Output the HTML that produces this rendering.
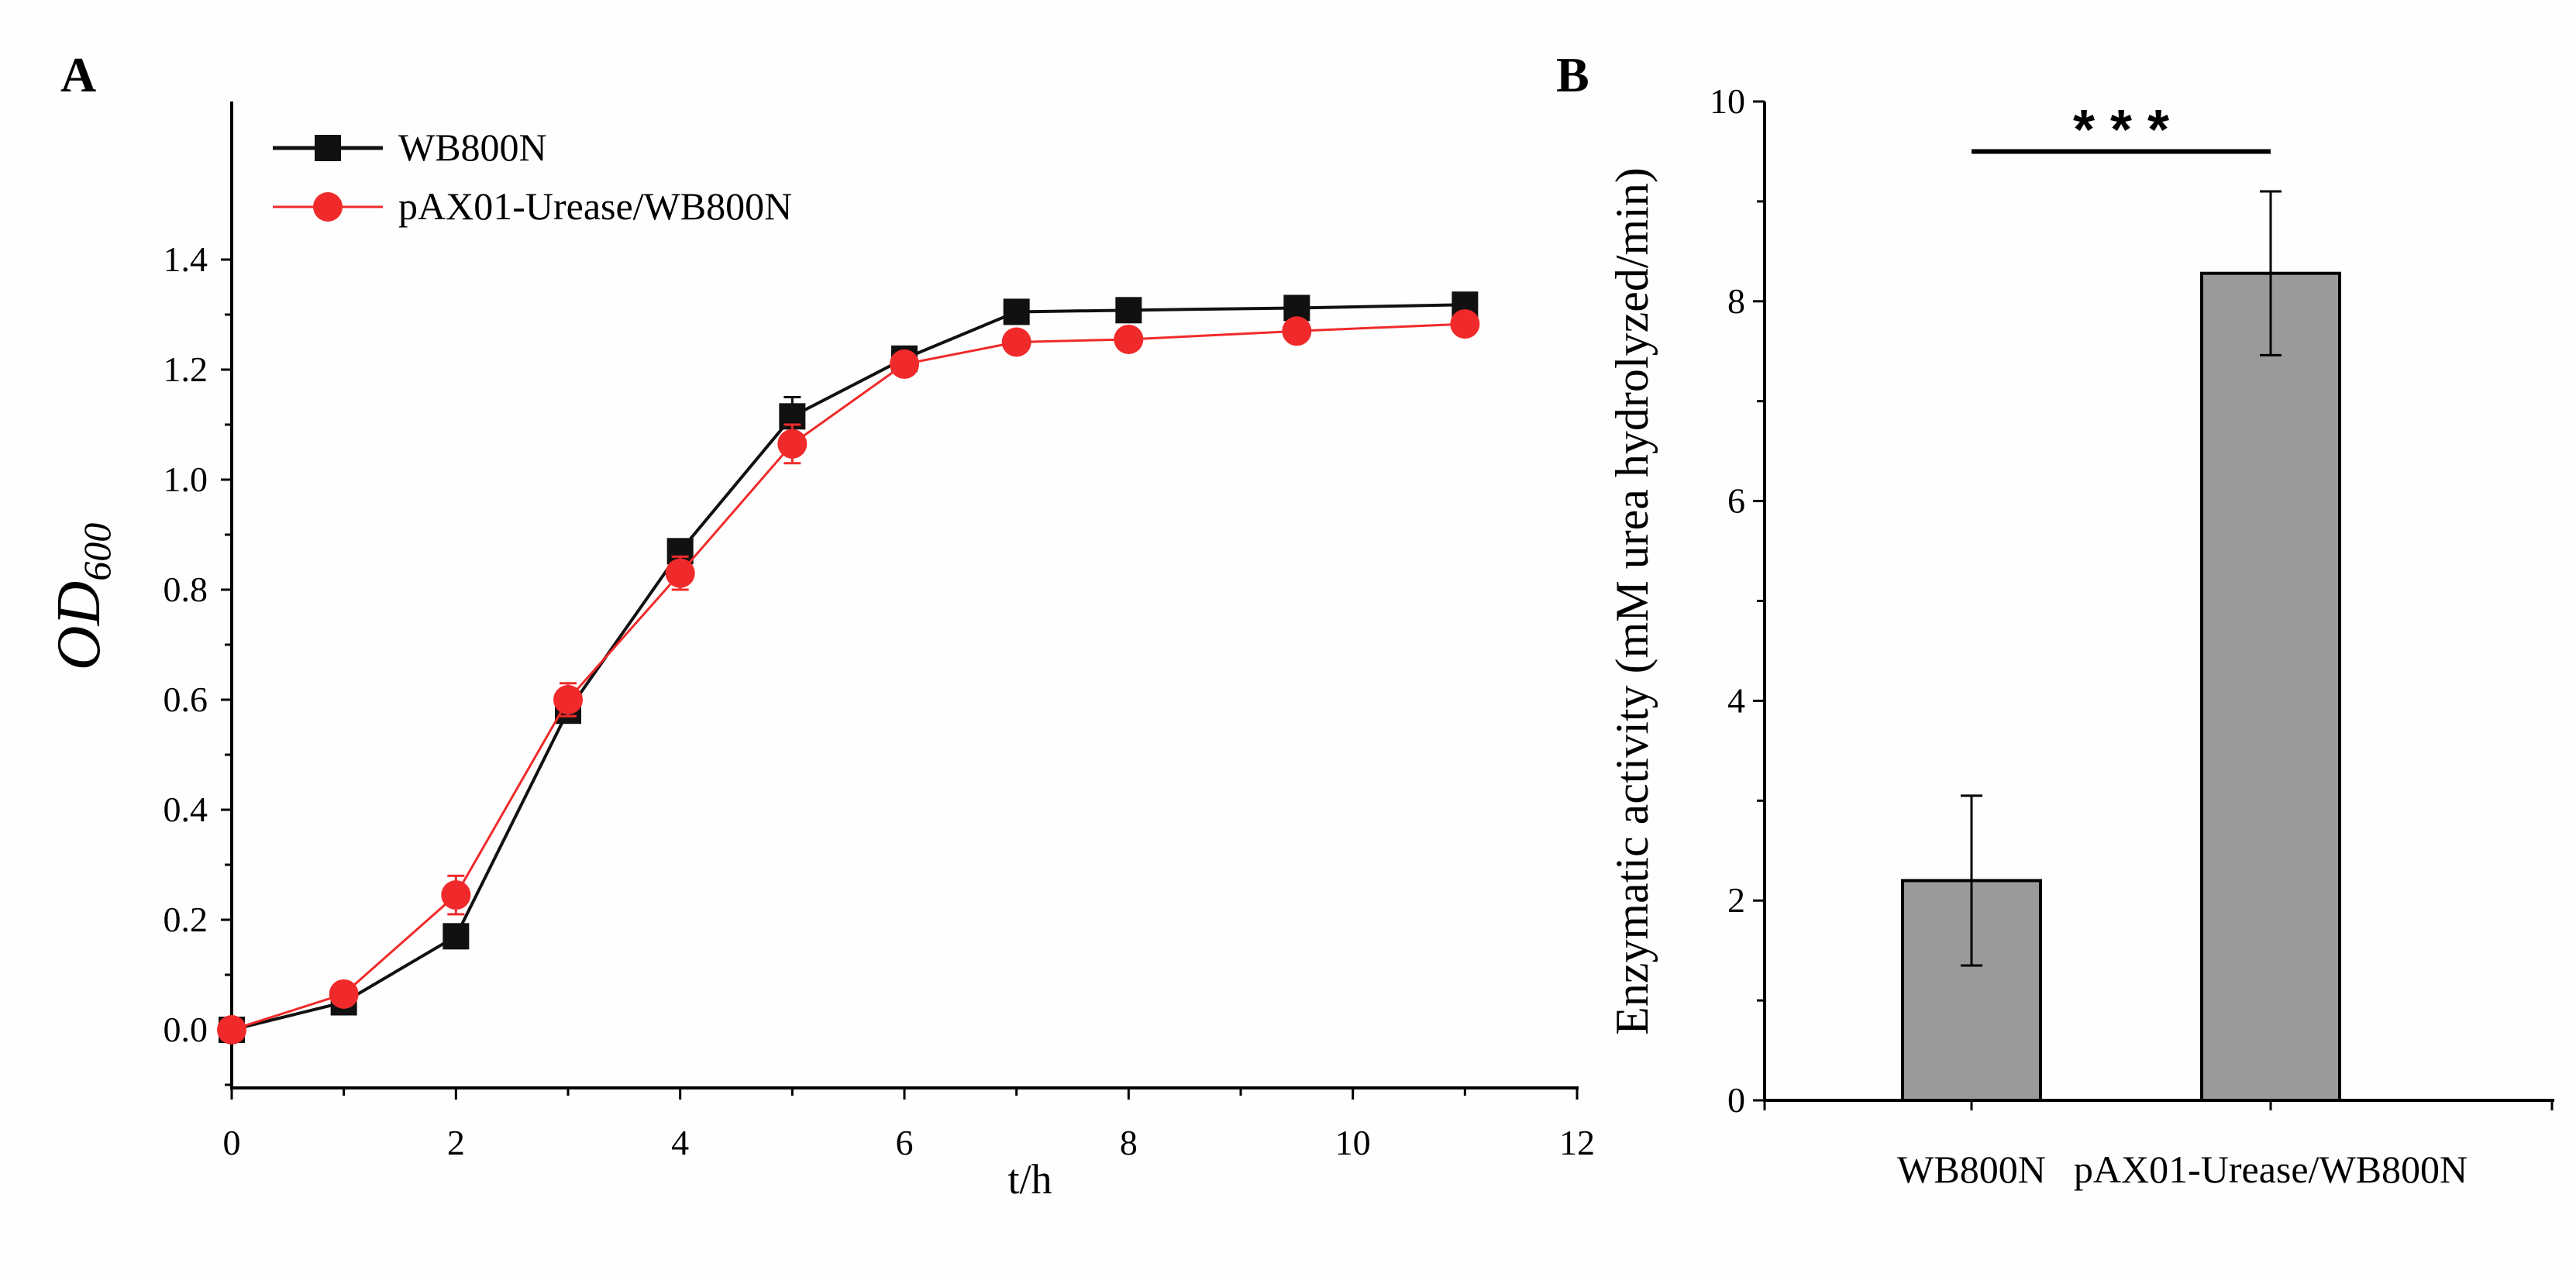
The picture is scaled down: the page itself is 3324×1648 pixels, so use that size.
<!DOCTYPE html>
<html><head><meta charset="utf-8"><style>
html,body{margin:0;padding:0;background:#fefefe;}
svg{display:block;font-family:"Liberation Serif",serif;}
</style></head><body>
<svg id="fig" width="3324" height="1648" viewBox="0 0 3324 1648">
<rect width="3324" height="1648" fill="#fefefe"/>
</svg>
<script>
// Panel A data
const timeH = [0,1,2,3,4,5,6,7,8,9.5,11];
const wbOD = [0,0.05,0.17,0.58,0.87,1.115,1.22,1.305,1.308,1.312,1.318];
const wbErr = [0.005,0.008,0.01,0.02,0.012,0.035,0.012,0.008,0.008,0.008,0.008];
const paxOD = [0,0.065,0.245,0.60,0.83,1.065,1.21,1.25,1.255,1.27,1.283];
const paxErr = [0.005,0.008,0.035,0.03,0.03,0.035,0.015,0.008,0.008,0.008,0.008];
const xTicksA = [0,2,4,6,8,10,12];
const yTicksA = [0.0,0.2,0.4,0.6,0.8,1.0,1.2,1.4];
// Panel B data
const strains = ["WB800N","pAX01-Urease/WB800N"];
const activity = [2.2,8.28];
const activityErr = [0.85,0.82];
const yTicksB = [0,2,4,6,8,10];

const NS="http://www.w3.org/2000/svg";
const svg=document.getElementById('fig');
function el(t,a,p){const e=document.createElementNS(NS,t);for(const k in a)e.setAttribute(k,a[k]);(p||svg).appendChild(e);return e;}
function txt(s,a,p){const e=el('text',a,p);e.textContent=s;return e;}

// ---------- Panel A ----------
const ax=x=>299+x*(2035-299)/12;
const ay=v=>1329-v*(1329-335)/1.4;
const gA=el('g',{});


let t=txt('A',{x:78,y:118,'font-size':64,'font-weight':'bold'},gA);

let yAxA=el('line',{x1:299,y1:131,x2:299,y2:1404,stroke:'#000','stroke-width':4},gA);

let xAxA=el('line',{x1:297,y1:1404,x2:2037,y2:1404,stroke:'#000','stroke-width':4},gA);

for(let k=-1;k<=14;k++){const v=k/10;const y=ay(v);const major=(k%2===0);
 el('line',{x1:299-(major?14:9),y1:y,x2:299,y2:y,stroke:'#000','stroke-width':3},gA);}
yTicksA.forEach(v=>{const l=txt(v.toFixed(1),{x:268,y:ay(v)+15,'font-size':46,'text-anchor':'end'},gA);
 });
for(let x=0;x<=12;x++){el('line',{x1:ax(x),y1:1404,x2:ax(x),y2:1404+(x%2?10:15),stroke:'#000','stroke-width':3},gA);}
xTicksA.forEach(v=>{const l=txt(String(v),{x:ax(v),y:1490,'font-size':46,'text-anchor':'middle'},gA);
 });
t=txt('t/h',{x:1329,y:1540,'font-size':54,'text-anchor':'middle'},gA);

t=el('text',{transform:'translate(128,770) rotate(-90)','font-size':80,'font-style':'italic','text-anchor':'middle'},gA);
t.innerHTML='OD<tspan font-size="50" dy="14">600</tspan>';


function series(vals,errs,color,name,shape){
 const g=el('g',{},gA);
 
 
 const pts=timeH.map((x,i)=>ax(x)+','+ay(vals[i])).join(' ');
 el('polyline',{points:pts,fill:'none',stroke:color,'stroke-width':shape==='sq'?4:3},g);
 timeH.forEach((x,i)=>{const cx=ax(x),cy=ay(vals[i]),e=errs[i];
  el('line',{x1:cx,y1:ay(vals[i]+e),x2:cx,y2:ay(vals[i]-e),stroke:color,'stroke-width':3},g);
  el('line',{x1:cx-11,y1:ay(vals[i]+e),x2:cx+11,y2:ay(vals[i]+e),stroke:color,'stroke-width':3},g);
  el('line',{x1:cx-11,y1:ay(vals[i]-e),x2:cx+11,y2:ay(vals[i]-e),stroke:color,'stroke-width':3},g);
  let m;
  if(shape==='sq')m=el('rect',{x:cx-17,y:cy-17,width:34,height:34,fill:color},g);
  else m=el('circle',{cx:cx,cy:cy,r:19,fill:color},g);
  
 });
}
series(wbOD,wbErr,'#111','series-wb800n','sq');
series(paxOD,paxErr,'#f02a2a','series-pax01-urease','ci');
// legend
const lg=el('g',{},gA);

el('line',{x1:352,y1:191,x2:494,y2:191,stroke:'#111','stroke-width':5},lg);
el('rect',{x:406,y:174,width:34,height:34,fill:'#111'},lg);
t=txt('WB800N',{x:514,y:207,'font-size':50},lg);
el('line',{x1:352,y1:267,x2:494,y2:267,stroke:'#f02a2a','stroke-width':3},lg);
el('circle',{cx:423,cy:267,r:19,fill:'#f02a2a'},lg);
t=txt('pAX01-Urease/WB800N',{x:514,y:283,'font-size':50},lg);

// ---------- Panel B ----------
const by=v=>1420-v*(1420-131)/10;
const bx=[2544,2930];
const bw=178;
const gB=el('g',{});


t=txt('B',{x:2008,y:118,'font-size':64,'font-weight':'bold'},gB);

activity.forEach((v,i)=>{
 const r=el('rect',{x:bx[i]-bw/2,y:by(v),width:bw,height:by(0)-by(v),fill:'#999a99',stroke:'#000','stroke-width':4},gB);
 
 const e=activityErr[i];
 el('line',{x1:bx[i],y1:by(v+e),x2:bx[i],y2:by(v-e),stroke:'#000','stroke-width':3},gB);
 el('line',{x1:bx[i]-14,y1:by(v+e),x2:bx[i]+14,y2:by(v+e),stroke:'#000','stroke-width':3},gB);
 el('line',{x1:bx[i]-14,y1:by(v-e),x2:bx[i]+14,y2:by(v-e),stroke:'#000','stroke-width':3},gB);
 const l=txt(strains[i],{x:bx[i],y:1526,'font-size':50,'text-anchor':'middle'},gB);
 
 el('line',{x1:bx[i],y1:1420,x2:bx[i],y2:1433,stroke:'#000','stroke-width':3},gB);
});
let yAxB=el('line',{x1:2277,y1:131,x2:2277,y2:1422,stroke:'#000','stroke-width':4},gB);

let xAxB=el('line',{x1:2275,y1:1420,x2:3296,y2:1420,stroke:'#000','stroke-width':4},gB);

el('line',{x1:2277,y1:1420,x2:2277,y2:1433,stroke:'#000','stroke-width':3},gB);
el('line',{x1:3293,y1:1420,x2:3293,y2:1433,stroke:'#000','stroke-width':3},gB);
for(let v=0;v<=10;v++){el('line',{x1:2277-(v%2?10:15),y1:by(v),x2:2277,y2:by(v),stroke:'#000','stroke-width':3},gB);}
yTicksB.forEach(v=>{const l=txt(String(v),{x:2252,y:by(v)+15,'font-size':46,'text-anchor':'end'},gB);
 });
t=txt('Enzymatic activity (mM urea hydrolyzed/min)',{transform:'translate(2126,776) rotate(-90)','font-size':60,'text-anchor':'middle'},gB);

let sig=el('line',{x1:bx[0],y1:by(9.5),x2:bx[1],y2:by(9.5),stroke:'#000','stroke-width':6},gB);

t=txt('* * *',{x:(bx[0]+bx[1])/2,y:192,'font-size':72,'text-anchor':'middle','font-weight':'bold','font-family':'Liberation Sans, sans-serif'},gB);

</script>
</body></html>
